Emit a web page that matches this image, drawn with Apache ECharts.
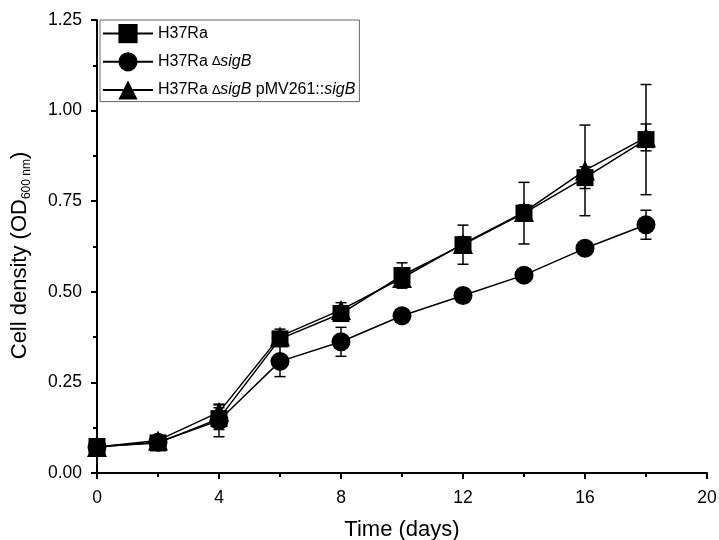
<!DOCTYPE html>
<html>
<head>
<meta charset="utf-8">
<script src="https://cdn.jsdelivr.net/npm/echarts@6/dist/echarts.min.js"></script>
<style>
html, body { margin: 0; padding: 0; background: #fff; }
#main { width: 719px; height: 540px; }
</style>
</head>
<body>
<div id="main"></div>
<script>
// growth curves, OD600 vs time
var days = [0, 2, 4, 6, 8, 10, 12, 14, 16, 18];
var seriesNames = ['H37Ra', 'H37Ra ΔsigB', 'H37Ra ΔsigB pMV261::sigB'];

var wt = [0.073, 0.083, 0.15, 0.37, 0.44, 0.545, 0.63, 0.717, 0.815, 0.92];
var wtErr = [0.005, 0.01, 0.03, 0.02, 0.02, 0.035, 0.054, 0.085, 0.03, 0.152];

var ko = [0.072, 0.085, 0.145, 0.308, 0.362, 0.434, 0.49, 0.546, 0.62, 0.685];
var koErr = [0.005, 0.01, 0.045, 0.042, 0.04, 0.01, 0.01, 0.01, 0.01, 0.04];

var comp = [0.072, 0.09, 0.168, 0.377, 0.45, 0.538, 0.632, 0.72, 0.835, 0.926];
var compErr = [0.005, 0.01, 0.02, 0.02, 0.02, 0.02, 0.02, 0.02, 0.125, 0.037];

var xTicks = [0, 4, 8, 12, 16, 20];
var yTicks = [0, 0.25, 0.5, 0.75, 1.0, 1.25];

function pts(ys) {
	var out = [];
	for (var i = 0; i < days.length; i++) out.push([days[i], ys[i]]);
	return out;
}
function errPts(ys, es) {
	var out = [];
	for (var i = 0; i < days.length; i++) out.push([days[i], ys[i] - es[i], ys[i] + es[i]]);
	return out;
}

function renderErr(params, api) {
	var x = api.value(0);
	var lo = api.coord([x, api.value(1)]);
	var hi = api.coord([x, api.value(2)]);
	var w = 5.5;
	var st = { stroke: '#000', lineWidth: 1.5 };
	return {
		type: 'group',
		children: [
			{ type: 'line', shape: { x1: hi[0], y1: hi[1], x2: lo[0], y2: lo[1] }, style: st },
			{ type: 'line', shape: { x1: hi[0] - w, y1: hi[1], x2: hi[0] + w, y2: hi[1] }, style: st },
			{ type: 'line', shape: { x1: lo[0] - w, y1: lo[1], x2: lo[0] + w, y2: lo[1] }, style: st }
		]
	};
}

function lineSeries(name, ys, symbol, size) {
	return {
		name: name,
		type: 'line',
		data: pts(ys),
		symbol: symbol,
		symbolSize: size,
		showAllSymbol: true,
		z: 3,
		itemStyle: { color: '#000' },
		lineStyle: { color: '#000', width: 1.5 },
		emphasis: { disabled: true }
	};
}
function errSeries(ys, es) {
	return {
		type: 'custom',
		data: errPts(ys, es),
		renderItem: renderErr,
		encode: { x: 0, y: [1, 2] },
		z: 2,
		silent: true
	};
}

var font = 'Liberation Sans, Arial, sans-serif';
var myChart = echarts.init(document.getElementById('main'));

var option = {
	animation: false,
	color: ['#000'],
	textStyle: { fontFamily: font, color: '#000' },
	grid: { left: 97, right: 12, top: 20, bottom: 67, containLabel: false, outerBoundsMode: 'none' },
	legend: {
		data: seriesNames,
		orient: 'vertical',
		left: 100,
		top: 20,
		padding: [4, 4, 2, 2],
		itemGap: 9,
		itemWidth: 50,
		itemHeight: 24,
		borderColor: '#666',
		borderWidth: 1,
		textStyle: {
			fontFamily: font, fontSize: 16, color: '#000',
			rich: {
				i: { fontFamily: font, fontSize: 16, fontStyle: 'italic', color: '#000' },
				d: { fontFamily: font, fontSize: 13, color: '#000' }
			}
		},
		formatter: function (name) {
			if (name === seriesNames[1]) return 'H37Ra {d|∆}{i|sigB}';
			if (name === seriesNames[2]) return 'H37Ra {d|∆}{i|sigB} pMV261::{i|sigB}';
			return name;
		}
	},
	xAxis: {
		type: 'value',
		min: 0,
		max: 20,
		interval: 4,
		name: 'Time (days)',
		nameLocation: 'middle',
		nameGap: 46,
		nameTextStyle: { fontFamily: font, fontSize: 22, color: '#000' },
		axisLine: { lineStyle: { color: '#000', width: 2 } },
		axisTick: { lineStyle: { color: '#000', width: 2 }, length: 6 },
		minorTick: { show: true, splitNumber: 2, length: 4, lineStyle: { color: '#000', width: 2 } },
		axisLabel: {
			fontFamily: font, fontSize: 17.5, color: '#000', margin: 16,
			formatter: function (v) { return xTicks.indexOf(v) >= 0 ? String(v) : ''; }
		},
		splitLine: { show: false }
	},
	yAxis: {
		type: 'value',
		min: 0,
		max: 1.25,
		interval: 0.25,
		name: 'Cell density (OD{sub|600 nm})',
		nameLocation: 'middle',
		nameGap: 64,
		nameTextStyle: {
			fontFamily: font, fontSize: 22, color: '#000',
			padding: [0, 18, 0, 0],
			rich: {
				sub: { fontFamily: font, fontSize: 12, color: '#000', padding: [14, 0, 0, 0] }
			}
		},
		axisLine: { lineStyle: { color: '#000', width: 2 } },
		axisTick: { lineStyle: { color: '#000', width: 2 }, length: 6 },
		minorTick: { show: true, splitNumber: 2, length: 4, lineStyle: { color: '#000', width: 2 } },
		axisLabel: {
			fontFamily: font, fontSize: 17.5, color: '#000', margin: 15,
			formatter: function (v) { return yTicks.indexOf(v) >= 0 ? v.toFixed(2) : ''; }
		},
		splitLine: { show: false }
	},
	series: [
		errSeries(wt, wtErr),
		errSeries(ko, koErr),
		errSeries(comp, compErr),
		lineSeries(seriesNames[0], wt, 'rect', 17),
		lineSeries(seriesNames[1], ko, 'circle', 19),
		lineSeries(seriesNames[2], comp, 'triangle', 20)
	]
};

myChart.setOption(option);
</script>
</body>
</html>
